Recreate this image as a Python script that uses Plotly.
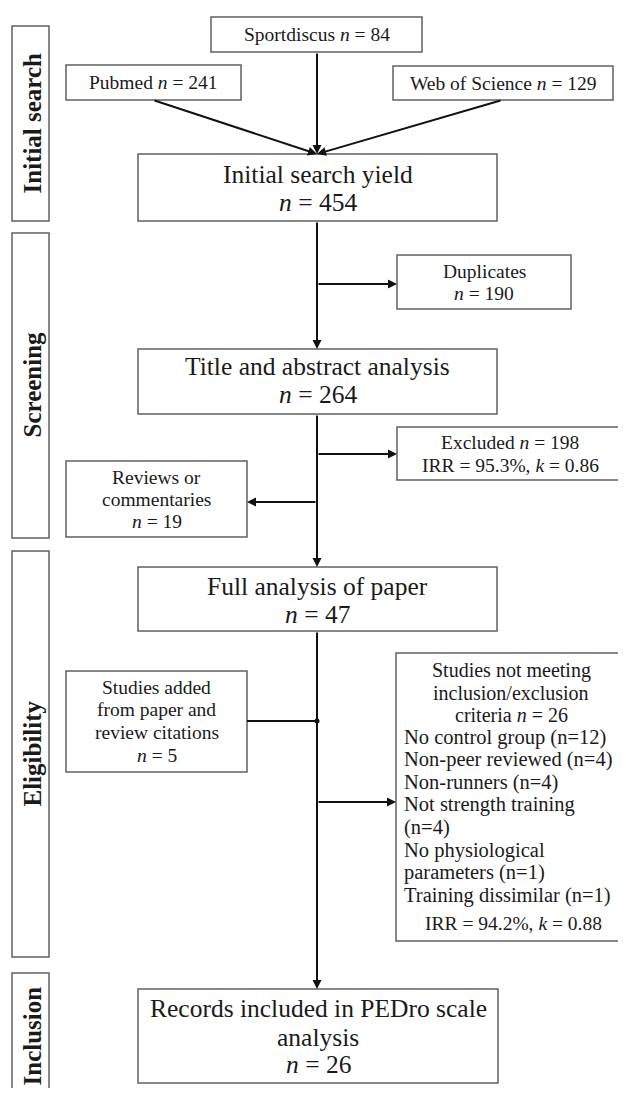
import plotly.graph_objects as go

# ---------------- data ----------------
stages = ["Initial search", "Screening", "Eligibility", "Inclusion"]
sources = ["Sportdiscus", "Pubmed", "Web of Science"]
source_n = [84, 241, 129]
main_steps = ["Initial search yield", "Title and abstract analysis",
              "Full analysis of paper", "Records included in PEDro scale|analysis"]
main_n = [454, 264, 47, 26]
side_labels = ["Duplicates", "Excluded", "Reviews or|commentaries",
               "Studies added|from paper and|review citations",
               "Studies not meeting|inclusion/exclusion|criteria"]
side_n = [190, 198, 19, 5, 26]
irr_pct = [95.3, 94.2]
kappa = [0.86, 0.88]
reasons = ["No control group", "Non-peer reviewed", "Non-runners",
           "Not strength training|", "No physiological|parameters", "Training dissimilar"]
reason_n = [12, 4, 4, 4, 1, 1]

# ---------------- layout geometry (page pixels) ----------------
W, H = 626, 1096
OFF = 8  # default body margin of the html page
XC = 317
src_boxes = [(211, 17, 422, 52), (66, 65, 241, 100), (393, 66, 613, 100)]
src_tails = [(XC, 52), (153, 100), (502, 100)]
main_boxes = [(138, 154, 497, 221), (138, 349, 497, 414), (138, 567, 497, 631), (138, 989, 498, 1083)]
main_line_y = [[174, 202], [366, 394], [586, 614], [1008, 1037, 1064]]
side_boxes = [(397, 255, 571, 309), (397, 427, 621, 480), (66, 461, 247, 537),
              (66, 671, 247, 772), (396, 653, 621, 941)]
stage_boxes = [(12, 26, 49, 221), (12, 233, 49, 538), (12, 551, 49, 957), (12, 973, 49, 1110)]
stage_cy = [123, 385, 754, 1036]

SERIF = "Liberation Serif"
TXT = "#1a1a1a"
BORDER = "#606060"
LINE = "#111111"
BIG = 25.5
SMALL = 19.5
BODY = 20.5

fig = go.Figure()
shapes = []
ann = []


def box(b, color=BORDER, w=1.5):
    shapes.append(dict(type="rect", xref="x", yref="y", x0=b[0], y0=b[1], x1=b[2], y1=b[3],
                       line=dict(color=color, width=w), fillcolor="white", layer="below"))


def text(x, y, t, size, xanchor="center", angle=0):
    ann.append(dict(x=x, y=y, xref="x", yref="y", text=t, showarrow=False,
                    font=dict(family=SERIF, size=size, color=TXT),
                    xanchor=xanchor, yanchor="middle", align="center", textangle=angle))


def lines_at(x, y0, step, lines, size, xanchor="center"):
    for i, t in enumerate(lines):
        text(x, y0 + i * step, t, size, xanchor)


def arrow(x0, y0, x1, y1, head=True):
    if head:
        ann.append(dict(x=x1, y=y1, ax=x0, ay=y0, xref="x", yref="y", axref="x", ayref="y",
                        text="", showarrow=True, arrowhead=2, arrowsize=0.9, arrowwidth=2,
                        arrowcolor=LINE, standoff=0, startstandoff=0))
    else:
        shapes.append(dict(type="line", xref="x", yref="y", x0=x0, y0=y0, x1=x1, y1=y1,
                           line=dict(color=LINE, width=2)))


# stage labels
for s, b, cy in zip(stages, stage_boxes, stage_cy):
    box(b)
    text((b[0] + b[2]) / 2 + 1, cy, f"<b>{s}</b>", 25, angle=-90)

# sources
for s, n, b, tail in zip(sources, source_n, src_boxes, src_tails):
    box(b)
    text((b[0] + b[2]) / 2, (b[1] + b[3]) / 2, f"{s} <i>n</i> = {n}", SMALL)
    arrow(tail[0], tail[1], XC, main_boxes[0][1])

# main steps
for s, n, b, ys in zip(main_steps, main_n, main_boxes, main_line_y):
    box(b)
    parts = s.split("|") + [f"<i>n</i> = {n}"]
    for t, y in zip(parts, ys):
        text((b[0] + b[2]) / 2, y, t, BIG)

# main vertical arrows
arrow(XC, main_boxes[0][3], XC, main_boxes[1][1])
arrow(XC, main_boxes[1][3], XC, main_boxes[2][1])
arrow(XC, main_boxes[2][3], XC, main_boxes[3][1])

for b in side_boxes:
    box(b)

# Duplicates
b = side_boxes[0]
lines_at((b[0] + b[2]) / 2, 271, 22, [side_labels[0], f"<i>n</i> = {side_n[0]}"], SMALL)
arrow(XC, 284, b[0], 284)
# Excluded
b = side_boxes[1]
lines_at(510, 442, 23,
         [f"{side_labels[1]} <i>n</i> = {side_n[1]}", f"IRR = {irr_pct[0]}%, <i>k</i> = {kappa[0]}"], SMALL)
arrow(XC, 454, b[0], 454)
# Reviews
b = side_boxes[2]
lines_at((b[0] + b[2]) / 2, 477, 22, side_labels[2].split("|") + [f"<i>n</i> = {side_n[2]}"], SMALL)
arrow(XC, 502, b[2], 502)
# Studies added
b = side_boxes[3]
lines_at((b[0] + b[2]) / 2, 687, 22.7, side_labels[3].split("|") + [f"<i>n</i> = {side_n[3]}"], SMALL)
arrow(b[2], 721, XC, 721, head=False)
shapes.append(dict(type="circle", xref="x", yref="y", x0=XC - 2.5, y0=721 - 2.5, x1=XC + 2.5, y1=721 + 2.5,
                   fillcolor=LINE, line=dict(width=0)))
# Not meeting criteria
b = side_boxes[4]
cx = 511
head = side_labels[4].split("|")
head[-1] = head[-1] + f" <i>n</i> = {side_n[4]}"
lines_at(cx, 670, 22.5, head, 20)
body = []
for r, n in zip(reasons, reason_n):
    if r.endswith("|"):
        body += [r[:-1], f"(n={n})"]
    elif "|" in r:
        a, c = r.split("|")
        body += [a, c + f" (n={n})"]
    else:
        body.append(f"{r} (n={n})")
lines_at(b[0] + 6, 737, 22.6, body, BODY, xanchor="left")
text(cx + 2, 923, f"IRR = {irr_pct[1]}%, <i>k</i> = {kappa[1]}", SMALL)
arrow(XC, 802, b[0], 802)

# figure placed at page offset (8, 8); kept within the window so no scrollbars appear
fig.update_layout(
    width=W - 2 * OFF, height=H - 2 * OFF, margin=dict(l=0, r=0, t=0, b=0),
    paper_bgcolor="white", plot_bgcolor="white",
    xaxis=dict(range=[OFF, W - OFF], visible=False, fixedrange=True),
    yaxis=dict(range=[H - OFF, OFF], visible=False, fixedrange=True),
    shapes=shapes, annotations=ann, showlegend=False,
)
fig.write_html("out.html")
